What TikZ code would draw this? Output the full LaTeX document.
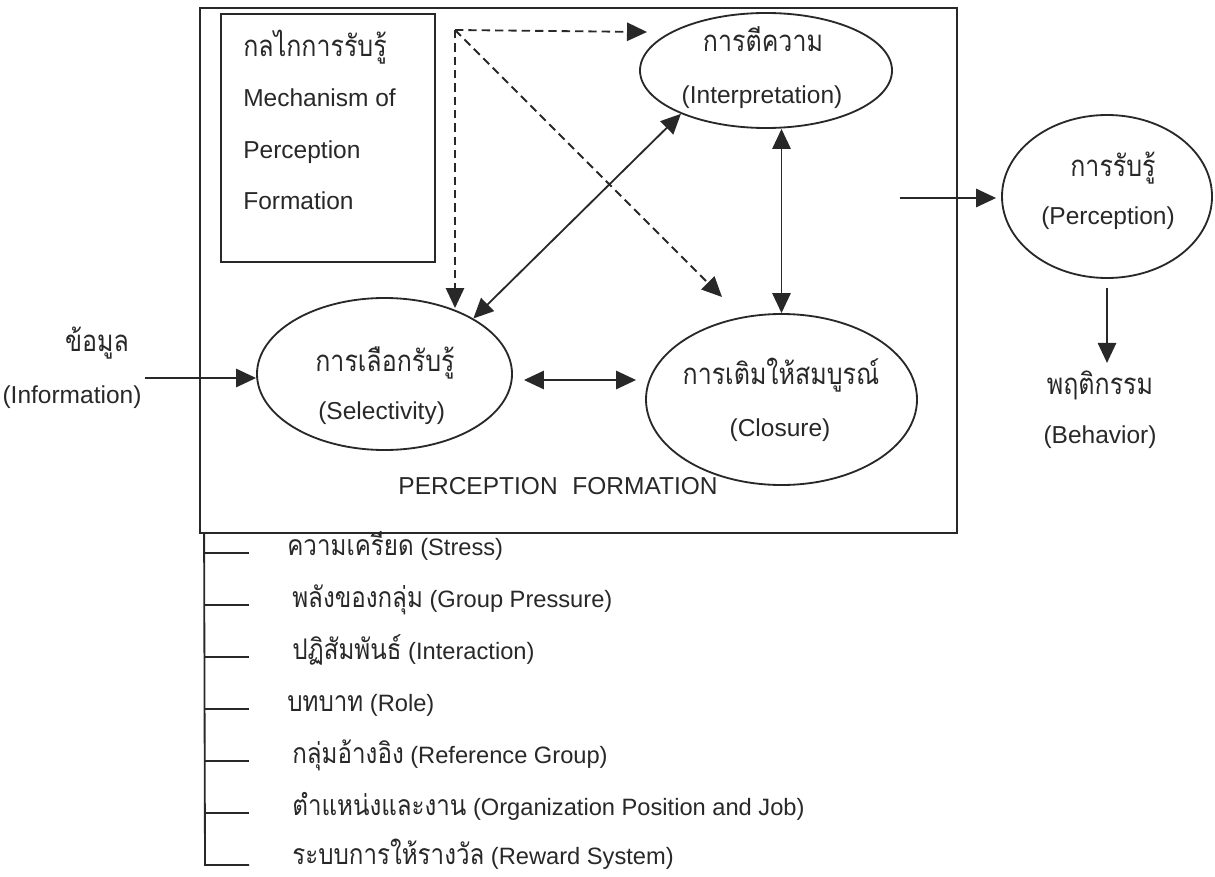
\documentclass[tikz,border=0pt]{standalone}
\usepackage{fontspec}
\setmainfont{Liberation Sans}
\newfontfamily\thaifnt[Script=Thai, Scale=1.2, FakeStretch=0.85]{Loma}
\usetikzlibrary{arrows.meta,shapes.geometric}
\newcommand\thx[1]{{\thaifnt #1}}
\definecolor{inkc}{RGB}{40,40,40}
\begin{document}
\begin{tikzpicture}[x=0.6pt,y=-0.6pt,
  ink/.style={draw=inkc, line width=1.1pt},
  oval/.style={ink, ellipse, inner sep=0pt},
  lbl/.style={inner sep=0pt, text=inkc, text height=10.5pt, text depth=3pt,
              font=\fontsize{14.7}{17}\selectfont},
  item/.style={lbl, anchor=west, font=\fontsize{14.2}{17}\selectfont},
  tip/.style={-{Triangle[length=12pt,width=11pt]}},
  dtip/.style={{Triangle[length=12pt,width=11pt]}-{Triangle[length=12pt,width=11pt]}},
  dashln/.style={dash pattern=on 5pt off 3pt}
]
\useasboundingbox (0,0) rectangle (1215,876);

% outer frame and the mechanism box
\node[ink, rectangle, inner sep=0pt, minimum width=757*0.6pt, minimum height=525*0.6pt] (frame) at (578.5,270.5) {};
\node[ink, rectangle, inner sep=0pt, minimum width=214*0.6pt, minimum height=248*0.6pt] (mech) at (328,138) {};
\node[lbl, anchor=west] (m1) at (243,50)  {\thx{กลไกการรับรู้}};
\node[lbl, anchor=west] (m2) at (243,100) {Mechanism of};
\node[lbl, anchor=west] (m3) at (243,152) {Perception};
\node[lbl, anchor=west] (m4) at (243,203) {Formation};

% the three stages
\node[oval, minimum width=252*0.6pt, minimum height=115*0.6pt] (int) at (766,70.5) {};
\node[lbl] (int1) at (763,45) {\thx{การตีความ}};
\node[lbl] (int2) at (762,97) {(Interpretation)};

\node[oval, minimum width=255*0.6pt, minimum height=152*0.6pt] (sel) at (384.5,374) {};
\node[lbl, anchor=west] (sel1) at (315,365) {\thx{การเลือกรับรู้}};
\node[lbl, anchor=west] (sel2) at (318,413) {(Selectivity)};

\node[oval, minimum width=271*0.6pt, minimum height=171*0.6pt] (clo) at (781.5,399.5) {};
\node[lbl] (clo1) at (781,378) {\thx{การเติมให้สมบูรณ์}};
\node[lbl] (clo2) at (780,430) {(Closure)};

\node[lbl] (pf) at (558,488) {PERCEPTION\hspace{0.6em}FORMATION};

% perception and behaviour
\node[oval, minimum width=210*0.6pt, minimum height=163*0.6pt] (per) at (1107,196.5) {};
\node[lbl] (per1) at (1113,170) {\thx{การรับรู้}};
\node[lbl] (per2) at (1108,218) {(Perception)};
\node[lbl] (beh1) at (1100,388) {\thx{พฤติกรรม}};
\node[lbl] (beh2) at (1100,437) {(Behavior)};

% information input
\node[lbl] (inf1) at (97,345) {\thx{ข้อมูล}};
\node[lbl] (inf2) at (72,397) {(Information)};

% dashed influences of the mechanism
\coordinate (src) at (455,30);
\coordinate (dh) at (647,32);
\coordinate (dv) at (455,308);
\coordinate (dd) at (722,297);
\draw[ink, dashln, tip] (src) -- (dh);
\draw[ink, dashln, tip] (src) -- (dv);
\draw[ink, dashln, tip] (src) -- (dd);

% links between stages
\draw[ink, dtip] (sel.32) -- (int.207);
\draw[ink, dtip] (clo.north |- int.south) -- (clo.north);
\draw[ink, dtip] ([shift={(11,6)}]sel.east) -- ([shift={(-9,-19.5)}]clo.west);

% input and output arrows
\coordinate (yinf) at (0,378);
\draw[ink, tip] (145,378) -- (sel.west |- yinf);
\coordinate (pfrom) at (900,198);
\draw[ink, tip, shorten >=3pt] (pfrom) -- (per.west |- pfrom);
\draw[ink, tip] ([shift={(0,9)}]per.south) -- ([shift={(0,84)}]per.south);

% factors list
\draw[ink] ([shift={(5,0)}]frame.south west) -- (205,865) -- (249,865);
\foreach \yy in {553,605,657,709,761,813} \draw[ink] (205,\yy) -- (249,\yy);
\node[item] (f1) at (287,549) {\thx{ความเครียด} (Stress)};
\node[item] (f2) at (292,601) {\thx{พลังของกลุ่ม} (Group Pressure)};
\node[item] (f3) at (292,653) {\thx{ปฏิสัมพันธ์} (Interaction)};
\node[item] (f4) at (287,705) {\thx{บทบาท} (Role)};
\node[item] (f5) at (292,757) {\thx{กลุ่มอ้างอิง} (Reference Group)};
\node[item] (f6) at (292,809) {\thx{ตำแหน่งและงาน} (Organization Position and Job)};
\node[item] (f7) at (292,858) {\thx{ระบบการให้รางวัล} (Reward System)};
\end{tikzpicture}
\end{document}
